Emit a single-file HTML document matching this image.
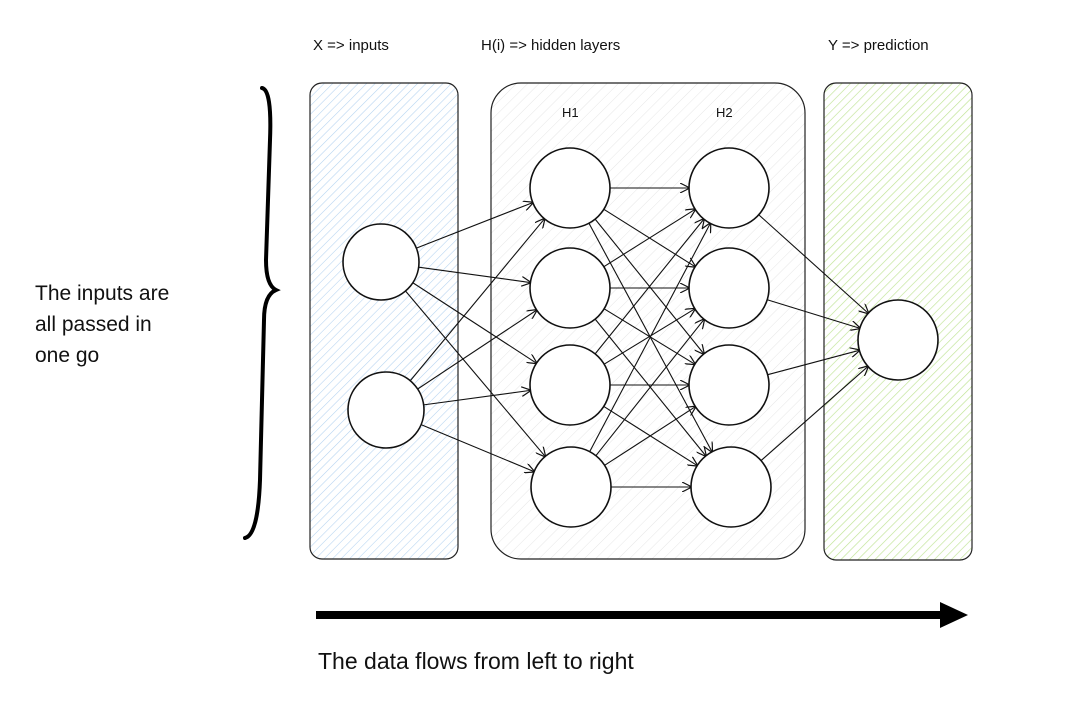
<!DOCTYPE html>
<html><head><meta charset="utf-8"><style>
html,body{margin:0;padding:0;background:#fff;}
svg{display:block;}
text{font-family:"Liberation Sans",sans-serif;fill:#111;}
</style></head><body>
<svg width="1069" height="713" viewBox="0 0 1069 713" xmlns="http://www.w3.org/2000/svg">
<defs>
<pattern id="hb" width="6" height="6" patternUnits="userSpaceOnUse" patternTransform="rotate(45)">
<line x1="0" y1="0" x2="0" y2="6" stroke="#b3d2f0" stroke-width="1.1"/></pattern>
<pattern id="hg" width="6" height="6" patternUnits="userSpaceOnUse" patternTransform="rotate(45)">
<line x1="0" y1="0" x2="0" y2="6" stroke="#bfe394" stroke-width="1.3"/></pattern>
<pattern id="hm" width="8" height="8" patternUnits="userSpaceOnUse" patternTransform="rotate(45)">
<line x1="0" y1="0" x2="0" y2="8" stroke="#e6e6e6" stroke-width="1"/></pattern>
<marker id="ah" markerWidth="10" markerHeight="10" refX="9" refY="5" orient="auto" markerUnits="userSpaceOnUse">
<path d="M0,0 L10,5 L0,10" fill="none" stroke="#111" stroke-width="1.2"/></marker>
</defs>

<text x="313" y="50" font-size="15">X =&gt; inputs</text>
<text x="481" y="50" font-size="15">H(i) =&gt; hidden layers</text>
<text x="828" y="50" font-size="15">Y =&gt; prediction</text>

<rect x="310" y="83" width="148" height="476" rx="12" fill="url(#hb)" stroke="#222" stroke-width="1.2"/>
<rect x="491" y="83" width="314" height="476" rx="30" fill="url(#hm)" stroke="#222" stroke-width="1.2"/>
<rect x="824" y="83" width="148" height="477" rx="12" fill="url(#hg)" stroke="#222" stroke-width="1.2"/>

<text x="562" y="117" font-size="13">H1</text>
<text x="716" y="117" font-size="13">H2</text>

<g id="edges" stroke="#111" stroke-width="1.1" fill="none"></g>

<g fill="#fff" stroke="#111" stroke-width="1.6">
<circle cx="381" cy="262" r="38"/>
<circle cx="386" cy="410" r="38"/>
<circle cx="570" cy="188" r="40"/>
<circle cx="570" cy="288" r="40"/>
<circle cx="570" cy="385" r="40"/>
<circle cx="571" cy="487" r="40"/>
<circle cx="729" cy="188" r="40"/>
<circle cx="729" cy="288" r="40"/>
<circle cx="729" cy="385" r="40"/>
<circle cx="731" cy="487" r="40"/>
<circle cx="898" cy="340" r="40"/>
</g>

<path d="M262,88 Q272,90 270,140 L266,260 Q266,285 276,290 Q264,295 264,320 L260,480 Q258,535 245,538" fill="none" stroke="#000" stroke-width="4" stroke-linecap="round"/>

<text x="35" y="300" font-size="21">The inputs are</text>
<text x="35" y="331" font-size="21">all passed in</text>
<text x="35" y="362" font-size="21">one go</text>

<line x1="316" y1="615" x2="945" y2="615" stroke="#000" stroke-width="8"/>
<path d="M940,602 L968,615 L940,628 Z" fill="#000"/>

<text x="318" y="669" font-size="23">The data flows from left to right</text>

<script>
var I=[[381,262,38],[386,410,38]],H1=[[570,188,40],[570,288,40],[570,385,40],[571,487,40]],
H2=[[729,188,40],[729,288,40],[729,385,40],[731,487,40]],O=[[898,340,40]];
var g=document.getElementById('edges');
function con(A,B){A.forEach(function(a){B.forEach(function(b){
var dx=b[0]-a[0],dy=b[1]-a[1],d=Math.sqrt(dx*dx+dy*dy);
var l=document.createElementNS('http://www.w3.org/2000/svg','line');
l.setAttribute('x1',a[0]+dx/d*a[2]);l.setAttribute('y1',a[1]+dy/d*a[2]);
l.setAttribute('x2',b[0]-dx/d*b[2]);l.setAttribute('y2',b[1]-dy/d*b[2]);
l.setAttribute('marker-end','url(#ah)');g.appendChild(l);});});}
con(I,H1);con(H1,H2);con(H2,O);
</script>
</svg>
</body></html>
